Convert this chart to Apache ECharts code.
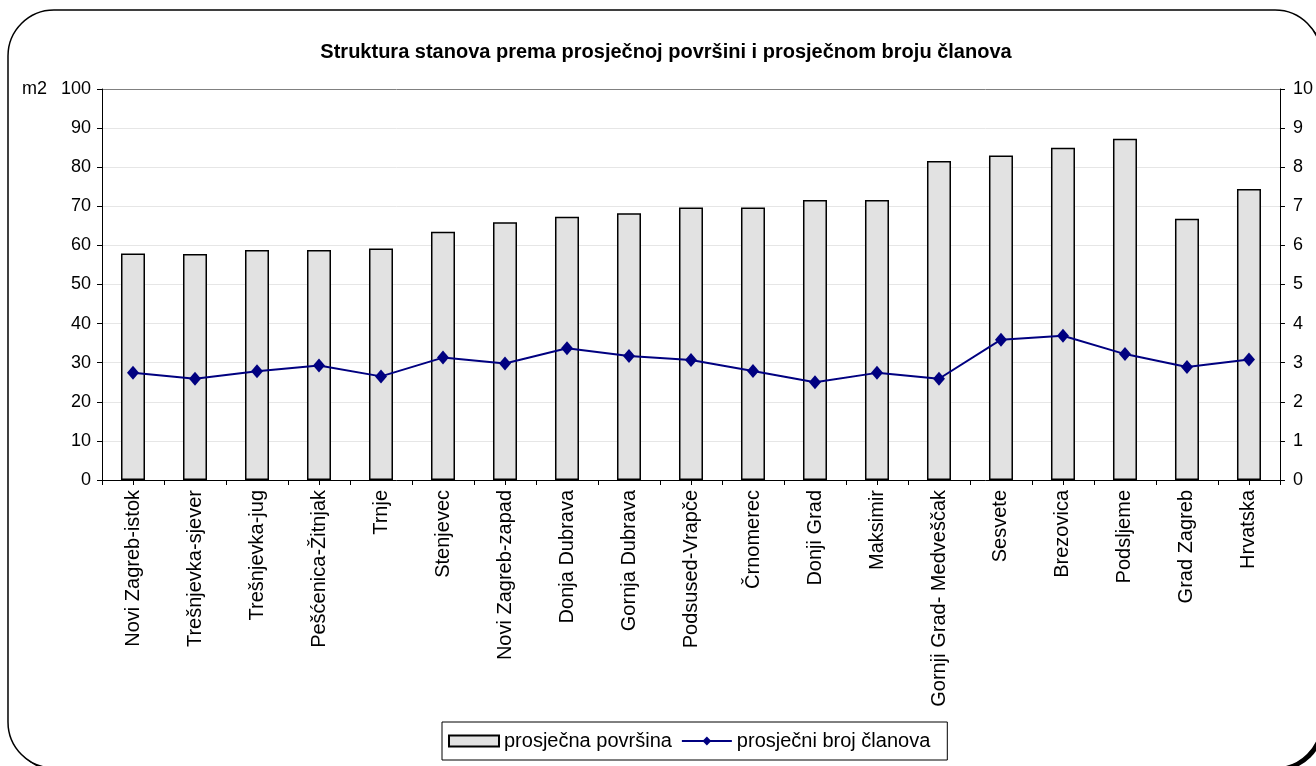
<!DOCTYPE html>
<html>
<head>
<meta charset="utf-8">
<script src="https://cdn.jsdelivr.net/npm/echarts@6/dist/echarts.min.js"></script>
<style>
html, body { margin: 0; padding: 0; background: #fff; }
#chart { width: 1316px; height: 766px; }
</style>
</head>
<body>
<div id="chart"></div>
<script>
const categories = ['Novi Zagreb-istok', 'Trešnjevka-sjever', 'Trešnjevka-jug', 'Pešćenica-Žitnjak', 'Trnje',
    'Stenjevec', 'Novi Zagreb-zapad', 'Donja Dubrava', 'Gornja Dubrava', 'Podsused-Vrapče',
    'Črnomerec', 'Donji Grad', 'Maksimir', 'Gornji Grad- Medveščak', 'Sesvete',
    'Brezovica', 'Podsljeme', 'Grad Zagreb', 'Hrvatska'];
// prosječna površina (m2)
const avgArea = [57.9, 57.8, 58.8, 58.8, 59.2, 63.5, 65.9, 67.3, 68.2, 69.7,
    69.7, 71.6, 71.6, 81.6, 83.0, 85.0, 87.3, 66.8, 74.4];
// prosječni broj članova
const avgMembers = [2.74, 2.59, 2.78, 2.93, 2.65, 3.13, 2.98, 3.37, 3.17, 3.07,
    2.79, 2.50, 2.74, 2.59, 3.59, 3.69, 3.22, 2.89, 3.08];
const leftTicks = { min: 0, max: 100, interval: 10 };
const rightTicks = { min: 0, max: 10, interval: 1 };

const font = 'Arial, "Liberation Sans", sans-serif';
let chart = echarts.init(document.getElementById('chart'));

// gridlines: light, the top one (100) darker
let splitColors = [];
for (let i = 0; i < 10; i++) splitColors.push('#e6e6e6');
splitColors.push('#808080');

let option = {
    backgroundColor: '#fff',
    animation: false,
    textStyle: { fontFamily: font },
    title: {
        text: 'Struktura stanova prema prosječnoj površini i prosječnom broju članova',
        left: 661,
        textAlign: 'center',
        top: 37,
        textStyle: { fontSize: 20, fontWeight: 'bold', color: '#000', fontFamily: font }
    },
    graphic: [
        {   // frame shadow
            type: 'rect', z: -10, silent: true,
            shape: { x: 11, y: 13, width: 1313, height: 758, r: 46 },
            style: { fill: '#000' }
        },
        {   // frame
            type: 'rect', z: -9, silent: true,
            shape: { x: 8, y: 10, width: 1313, height: 758, r: 46 },
            style: { fill: '#fff', stroke: '#000', lineWidth: 1.5 }
        },
        {
            type: 'text', left: 22, top: 80,
            style: { text: 'm2', font: '18px ' + font, fill: '#000' }
        }
    ],
    legend: {
        left: 442,
        top: 722,
        padding: [9, 17, 9, 6],
        borderColor: '#000',
        borderWidth: 1,
        backgroundColor: '#fff',
        itemGap: 9,
        itemWidth: 50,
        itemHeight: 11,
        textStyle: { fontSize: 20, color: '#000', fontFamily: font },
        data: [
            { name: 'prosječna površina', icon: 'rect' },
            { name: 'prosječni broj članova' }
        ]
    },
    grid: { left: 102, right: 33, top: 89, bottom: 286 },
    xAxis: [
        {
            type: 'category',
            data: categories,
            position: 'bottom',
            axisLine: { lineStyle: { color: '#000', width: 1 } },
            axisTick: { show: true, length: 5, lineStyle: { color: '#000' } },
            axisLabel: { rotate: 90, fontSize: 20, color: '#000', margin: 10, interval: 0, fontFamily: font },
            splitLine: { show: false }
        },
        {
            type: 'category',
            data: categories,
            position: 'bottom',
            axisLine: { show: false },
            axisTick: { show: true, alignWithLabel: true, length: 5, lineStyle: { color: '#000' } },
            axisLabel: { show: false },
            splitLine: { show: false }
        }
    ],
    yAxis: [
        {
            type: 'value',
            min: leftTicks.min, max: leftTicks.max, interval: leftTicks.interval,
            axisLine: { show: true, lineStyle: { color: '#000' } },
            axisTick: { show: true, length: 5, lineStyle: { color: '#000' } },
            axisLabel: { fontSize: 18, color: '#000', margin: 11, fontFamily: font },
            splitLine: { show: true, lineStyle: { color: splitColors, width: 1 } }
        },
        {
            type: 'value',
            min: rightTicks.min, max: rightTicks.max, interval: rightTicks.interval,
            position: 'right',
            axisLine: { show: true, lineStyle: { color: '#000' } },
            axisTick: { show: true, length: 5, lineStyle: { color: '#000' } },
            axisLabel: { fontSize: 18, color: '#000', margin: 13, fontFamily: font },
            splitLine: { show: false }
        }
    ],
    series: [
        {
            name: 'prosječna površina',
            type: 'bar',
            xAxisIndex: 0,
            yAxisIndex: 0,
            barWidth: 24,
            itemStyle: { color: '#e2e2e2', borderColor: '#000', borderWidth: 1.5 },
            data: avgArea
        },
        {
            name: 'prosječni broj članova',
            type: 'line',
            xAxisIndex: 1,
            yAxisIndex: 1,
            symbol: 'diamond',
            symbolSize: [12, 14],
            lineStyle: { color: '#000080', width: 2 },
            itemStyle: { color: '#000080' },
            data: avgMembers
        }
    ]
};
chart.setOption(option);
</script>
</body>
</html>
